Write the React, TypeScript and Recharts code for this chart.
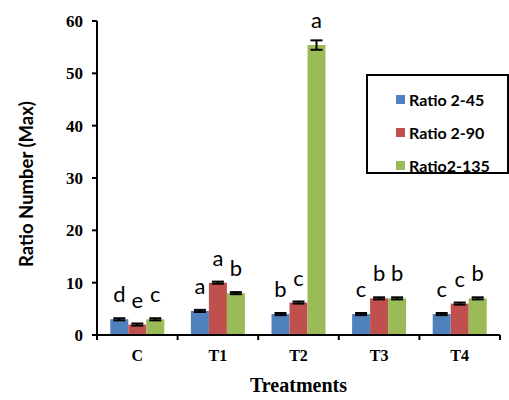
import {
  Bar,
  BarChart,
  ErrorBar,
  LabelList,
  Legend,
  XAxis,
  YAxis,
} from "recharts";

const treatments = ["C", "T1", "T2", "T3", "T4"];

const ratio45 = [3.0, 4.6, 4.0, 4.0, 4.0];
const ratio90 = [2.0, 10.0, 6.2, 7.0, 6.0];
const ratio135 = [3.0, 8.0, 55.4, 7.0, 7.0];

const err45 = [0.2, 0.2, 0.2, 0.2, 0.2];
const err90 = [0.2, 0.2, 0.2, 0.2, 0.2];
const err135 = [0.2, 0.2, 0.9, 0.2, 0.2];

const letters45 = ["d", "a", "b", "c", "c"];
const letters90 = ["e", "a", "c", "b", "c"];
const letters135 = ["c", "b", "a", "b", "b"];

const yTicks = [0, 10, 20, 30, 40, 50, 60];

const data = treatments.map((name, i) => ({
  name,
  r45: ratio45[i],
  r90: ratio90[i],
  r135: ratio135[i],
  e45: err45[i],
  e90: err90[i],
  e135: err135[i],
  l45: letters45[i],
  l90: letters90[i],
  l135: letters135[i],
}));

const series = [
  { key: "r45", err: "e45", letter: "l45", name: "Ratio 2-45", color: "#4F81BD" },
  { key: "r90", err: "e90", letter: "l90", name: "Ratio 2-90", color: "#C0504D" },
  { key: "r135", err: "e135", letter: "l135", name: "Ratio2-135", color: "#9BBB59" },
];

const serif = "'Liberation Serif', 'Times New Roman', serif";
const sans = "Lato, 'Open Sans', sans-serif";

const TICK_SIZE = 5;
const TICK_MARGIN = 10;

// significance letter sitting above each bar
const LetterLabel = (props: any) => {
  const { x, y, width, value } = props;
  return (
    <text
      x={x + width / 2}
      y={y - 17}
      textAnchor="middle"
      fontFamily={sans}
      fontSize={22}
      fill="#000"
    >
      {value}
    </text>
  );
};

// category name plus tick marks on the group boundaries
const TreatmentTick = (props: any) => {
  const { x, y, payload, index, width, visibleTicksCount } = props;
  const count = visibleTicksCount || treatments.length;
  const half = payload?.offset || width / count / 2;
  const axisY = y - TICK_SIZE - TICK_MARGIN;
  const tickMark = (tx: number) => (
    <line
      x1={tx}
      x2={tx}
      y1={axisY}
      y2={axisY + TICK_SIZE}
      stroke="#000"
      strokeWidth={2}
    />
  );
  return (
    <g>
      {tickMark(x - half)}
      {index === count - 1 && tickMark(x + half)}
      <text
        x={x}
        y={y}
        dy="0.71em"
        textAnchor="middle"
        fill="#000"
        fontFamily={serif}
        fontWeight="bold"
        fontSize={16}
      >
        {payload.value}
      </text>
    </g>
  );
};

const YTitle = (props: any) => {
  const { viewBox } = props;
  const cx = viewBox.x + 26;
  const cy = viewBox.y + viewBox.height / 2 + 6;
  return (
    <text
      x={cx}
      y={cy}
      transform={`rotate(-90, ${cx}, ${cy})`}
      textAnchor="middle"
      dominantBaseline="central"
      fontFamily={sans}
      fontWeight="bold"
      fontSize={18.5}
      fill="#000"
    >
      Ratio Number (Max)
    </text>
  );
};

const LegendBox = () => (
  <div
    style={{
      boxSizing: "border-box",
      width: 143,
      height: 100,
      border: "2px solid #000",
      background: "#fff",
      paddingTop: 7,
      paddingLeft: 28,
    }}
  >
    {series.map((s) => (
      <div
        key={s.key}
        style={{
          display: "flex",
          alignItems: "center",
          height: 33,
          fontFamily: sans,
          fontWeight: "bold",
          fontSize: 16,
          color: "#000",
        }}
      >
        <span
          style={{
            display: "inline-block",
            width: 9,
            height: 9,
            background: s.color,
            marginRight: 4,
          }}
        />
        {s.name}
      </div>
    ))}
  </div>
);

export default function App() {
  return (
    <div style={{ position: "absolute", left: 0, top: 0, background: "#fff" }}>
      <BarChart
        width={509}
        height={400}
        data={data}
        margin={{ top: 21, right: 9, bottom: 0, left: 0 }}
        barCategoryGap="16.5%"
        barGap={0}
      >
        <XAxis
          dataKey="name"
          height={65}
          interval={0}
          axisLine={{ stroke: "#000", strokeWidth: 2 }}
          tickLine={false}
          tickSize={TICK_SIZE}
          tickMargin={TICK_MARGIN}
          tick={<TreatmentTick />}
          label={{
            value: "Treatments",
            position: "insideBottom",
            offset: 8,
            fill: "#000",
            fontFamily: serif,
            fontWeight: "bold",
            fontSize: 20,
          }}
        />
        <YAxis
          width={97}
          domain={[0, 60]}
          ticks={yTicks}
          interval={0}
          axisLine={{ stroke: "#000", strokeWidth: 2 }}
          tickLine={{ stroke: "#000", strokeWidth: 2 }}
          tickSize={5}
          tickMargin={9}
          tick={{
            fill: "#000",
            fontFamily: serif,
            fontWeight: "bold",
            fontSize: 17,
          }}
          label={<YTitle />}
        />
        <Legend
          layout="vertical"
          align="center"
          verticalAlign="middle"
          wrapperStyle={{ left: 366, top: 74, width: 143 }}
          content={<LegendBox />}
        />
        {series.map((s) => (
          <Bar
            key={s.key}
            dataKey={s.key}
            name={s.name}
            fill={s.color}
            isAnimationActive={false}
          >
            <ErrorBar
              dataKey={s.err}
              width={6}
              stroke="#000"
              strokeWidth={2}
              direction="y"
            />
            <LabelList dataKey={s.letter} content={<LetterLabel />} />
          </Bar>
        ))}
      </BarChart>
    </div>
  );
}
